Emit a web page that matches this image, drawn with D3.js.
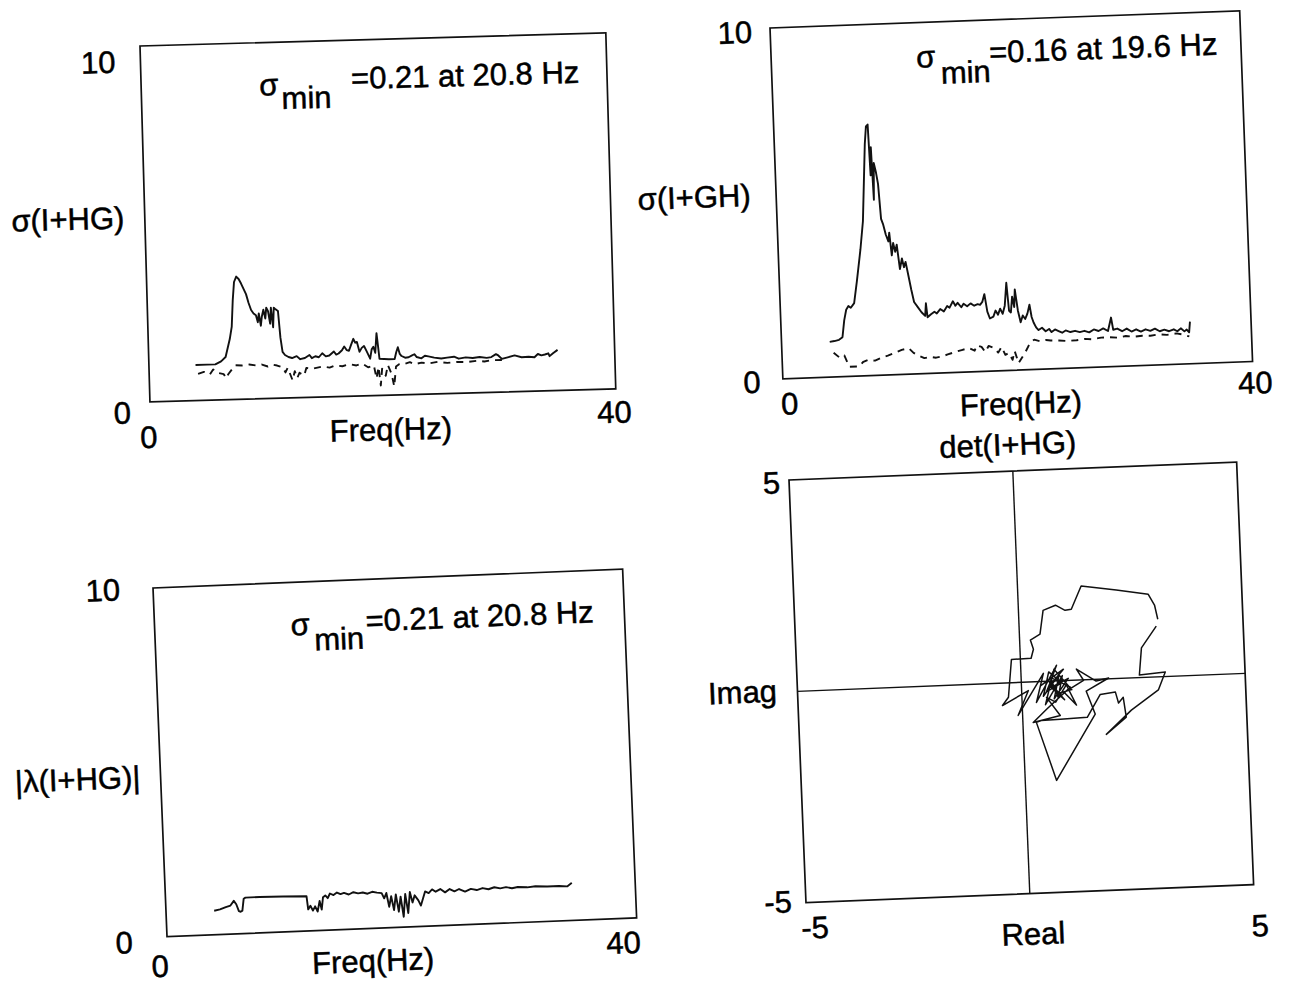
<!DOCTYPE html>
<html>
<head>
<meta charset="utf-8">
<script src="https://cdn.jsdelivr.net/npm/d3@7"></script>
<style>
  body { margin: 0; background: #fff; }
  text { font-family: "Liberation Sans", Arial, Helvetica, sans-serif; font-size: 31px; fill: #000; stroke: #000; stroke-width: 0.5px; }
</style>
</head>
<body>
<div id="chart"></div>
<script>
// ---- data ----
var freqTicks = [0, 40];
var sigmaTicks = [0, 10];
var nyquistTicks = [-5, 5];

// sigma(I+HG): max (solid) and min (dashed), [freq Hz, value]
var hgSigmaMax = [[4.0,1.0],[5.0,1.0],[5.7,1.0],[6.2,1.08],[6.6,1.2],[7.0,1.7],[7.2,2.05],[7.35,2.8],[7.5,3.3],[7.7,3.45],[7.9,3.38],[8.1,3.25],[8.3,3.1],[8.5,2.95],[8.7,2.7],[8.9,2.5],[9.1,2.4],[9.3,2.35],[9.45,2.15],[9.55,2.4],[9.7,2.05],[9.8,2.3],[9.95,2.5],[10.1,2.25],[10.2,2.55],[10.35,2.45],[10.5,2.1],[10.6,2.55],[10.75,2.0],[10.85,2.55],[11.0,2.5],[11.2,2.45],[11.35,1.7],[11.5,1.3],[11.7,1.21],[12.0,1.15],[12.3,1.12],[12.7,1.17],[13.0,1.08],[13.4,1.11],[13.8,1.19],[14.0,1.1],[14.3,1.15],[14.6,1.12],[14.9,1.23],[15.2,1.14],[15.5,1.16],[15.9,1.27],[16.1,1.18],[16.3,1.21],[16.6,1.3],[16.8,1.4],[17.0,1.3],[17.2,1.28],[17.4,1.45],[17.6,1.61],[17.75,1.5],[17.9,1.52],[18.1,1.24],[18.3,1.35],[18.5,1.4],[18.7,1.26],[19.0,1.04],[19.15,1.3],[19.3,1.37],[19.45,1.2],[19.6,1.75],[19.7,1.4],[19.8,1.03],[20.2,1.02],[20.6,1.01],[21.1,1.01],[21.25,1.2],[21.4,1.34],[21.55,1.15],[21.7,1.09],[22.0,1.04],[22.3,1.05],[22.6,1.1],[22.8,1.13],[23.0,1.05],[23.4,1.01],[23.7,1.08],[24.0,1.06],[24.5,1.02],[25.1,0.99],[25.6,1.01],[26.2,1.03],[26.6,0.97],[27.2,1.0],[27.8,0.98],[28.4,1.0],[29.0,0.97],[29.4,0.99],[29.8,1.07],[30.0,1.03],[30.3,0.93],[30.8,0.97],[31.4,1.02],[32.0,0.96],[32.6,0.97],[33.1,0.95],[33.4,1.04],[33.7,1.0],[34.0,1.02],[34.3,1.05],[34.4,0.97],[34.7,1.05],[35.1,1.14]];
var hgSigmaMin = [[4.2,0.75],[4.7,0.8],[5.2,0.72],[5.5,0.86],[5.7,0.78],[6.4,0.72],[6.6,0.6],[6.8,0.72],[7.4,0.96],[8.0,0.95],[8.6,0.97],[9.2,0.94],[9.7,0.96],[10.2,0.9],[10.6,0.95],[11.0,0.92],[11.5,0.86],[11.7,0.72],[11.9,0.85],[12.3,0.49],[12.5,0.75],[12.7,0.55],[12.9,0.7],[13.3,0.62],[13.5,0.83],[14.0,0.8],[14.9,0.86],[15.5,0.82],[16.0,0.88],[16.6,0.85],[17.2,0.9],[17.8,0.86],[18.3,0.91],[18.8,0.8],[19.3,0.85],[19.5,0.48],[19.7,0.8],[19.85,0.28],[20.0,0.75],[20.3,0.55],[20.5,0.85],[20.8,0.6],[21.0,0.24],[21.2,0.8],[21.5,0.87],[22.0,0.87],[22.4,0.91],[22.8,0.85],[23.4,0.89],[24.0,0.86],[24.8,0.9],[25.6,0.86],[26.4,0.88],[27.3,0.87],[28.2,0.9],[28.8,0.87],[29.3,0.9],[30.3,0.9]];

// sigma(I+GH): max (solid) and min (dashed)
var ghSigmaMax = [[4.1,1.0],[4.5,1.02],[4.9,1.05],[5.2,1.12],[5.4,1.6],[5.6,1.9],[5.8,2.0],[6.0,1.95],[6.3,2.08],[6.6,2.7],[7.0,3.6],[7.3,4.4],[7.5,5.5],[7.7,6.6],[7.85,7.1],[8.0,7.15],[8.1,5.7],[8.2,6.5],[8.3,5.0],[8.4,6.05],[8.55,5.8],[8.7,5.45],[8.85,4.45],[9.0,4.3],[9.2,4.0],[9.4,3.8],[9.5,4.05],[9.65,3.4],[9.8,3.75],[9.95,3.5],[10.1,3.7],[10.3,3.0],[10.5,3.3],[10.65,3.05],[10.8,3.2],[11.0,2.8],[11.2,2.4],[11.4,2.05],[11.7,1.9],[12.0,1.75],[12.3,1.64],[12.4,2.0],[12.5,1.6],[12.8,1.68],[13.1,1.75],[13.3,1.7],[13.6,1.82],[13.9,1.75],[14.2,1.9],[14.4,1.85],[14.7,2.03],[14.9,1.9],[15.1,1.98],[15.4,1.85],[15.6,1.95],[15.9,1.87],[16.2,1.95],[16.5,1.88],[16.8,1.92],[17.0,1.9],[17.2,1.98],[17.4,2.2],[17.6,1.7],[17.8,1.5],[18.1,1.55],[18.3,1.72],[18.5,1.6],[18.7,1.77],[18.9,1.62],[19.1,1.85],[19.3,2.5],[19.45,1.7],[19.6,1.65],[19.75,2.1],[19.9,1.8],[20.0,2.3],[20.2,1.7],[20.4,1.36],[20.6,1.55],[20.8,1.45],[21.0,1.6],[21.2,1.85],[21.35,1.5],[21.5,1.34],[21.7,1.2],[21.9,1.12],[22.2,1.18],[22.5,1.08],[22.8,1.14],[23.0,1.05],[23.3,1.12],[23.6,1.07],[23.9,1.02],[24.2,1.08],[24.6,1.03],[25.0,1.06],[25.4,1.02],[25.8,1.05],[26.2,1.0],[26.6,1.08],[27.0,1.03],[27.4,1.1],[27.8,1.02],[28.1,1.4],[28.25,1.05],[28.6,1.08],[29.0,1.0],[29.4,1.07],[29.8,0.98],[30.2,1.04],[30.6,0.97],[31.0,1.03],[31.4,0.98],[31.8,1.04],[32.2,0.96],[32.6,1.0],[33.0,0.95],[33.4,1.0],[33.7,0.94],[34.0,1.02],[34.3,0.93],[34.5,0.98],[34.7,0.9],[34.8,1.2]];
var ghSigmaMin = [[4.4,0.69],[4.9,0.54],[5.3,0.6],[5.7,0.27],[6.5,0.27],[6.9,0.4],[7.3,0.45],[7.9,0.42],[8.5,0.5],[9.0,0.55],[9.6,0.62],[10.2,0.7],[10.8,0.74],[11.2,0.6],[11.6,0.52],[12.1,0.44],[12.6,0.47],[13.1,0.44],[13.6,0.47],[14.1,0.52],[14.7,0.58],[15.3,0.63],[15.9,0.68],[16.4,0.6],[16.6,0.75],[17.0,0.7],[17.3,0.55],[17.6,0.72],[18.1,0.65],[18.4,0.52],[18.7,0.68],[19.0,0.45],[19.3,0.5],[19.6,0.3],[19.8,0.55],[20.1,0.2],[20.4,0.35],[20.7,0.5],[21.0,0.68],[21.2,0.78],[21.5,0.85],[22.0,0.8],[22.5,0.83],[22.9,0.81],[23.6,0.8],[24.3,0.78],[25.1,0.79],[25.8,0.82],[26.5,0.8],[27.2,0.84],[27.9,0.84],[28.6,0.82],[29.3,0.86],[30.0,0.83],[30.7,0.85],[31.4,0.84],[32.1,0.87],[32.8,0.85],[33.6,0.88],[34.2,0.84],[34.7,0.78]];

// |lambda(I+HG)|
var hgLambda = [[4.1,0.69],[4.6,0.72],[5.1,0.78],[5.5,0.82],[5.8,0.95],[6.0,0.85],[6.2,0.65],[6.35,0.63],[6.5,0.66],[6.65,1.0],[6.8,1.03],[8.0,1.03],[10.0,1.02],[12.0,1.0],[12.1,0.62],[12.3,0.72],[12.5,0.58],[12.7,0.7],[12.9,0.55],[13.1,0.85],[13.25,0.6],[13.4,0.95],[13.6,1.0],[13.8,0.92],[14.0,1.05],[14.3,1.0],[14.6,1.07],[14.9,1.02],[15.2,1.05],[15.6,1.0],[16.0,1.06],[16.4,1.02],[16.8,1.04],[17.2,1.0],[17.6,1.05],[18.0,1.02],[18.4,1.0],[18.6,0.85],[18.8,1.0],[19.0,0.6],[19.2,0.9],[19.4,0.5],[19.6,0.95],[19.8,0.45],[20.0,0.88],[20.2,0.3],[20.4,0.95],[20.6,0.4],[20.8,1.0],[21.0,0.7],[21.2,0.9],[21.5,0.75],[21.7,0.6],[21.9,0.8],[22.1,1.0],[22.4,0.95],[22.7,1.05],[23.0,0.98],[23.4,1.05],[23.8,0.95],[24.2,1.04],[24.6,0.97],[25.0,1.03],[25.5,0.95],[26.0,1.02],[26.5,0.98],[27.0,1.03],[27.5,0.99],[28.0,1.04],[28.5,1.0],[29.0,1.03],[29.5,0.99],[30.0,1.02],[30.8,1.0],[31.5,1.02],[32.5,1.0],[33.5,1.0],[34.2,0.98],[34.5,1.05],[34.6,1.08]];

// det(I+HG) locus, [real, imag]
var hgDet = [[3.10,1.36],[3.04,1.70],[2.91,1.96],[2.20,2.09],[1.42,2.22],[1.18,1.68],[1.04,1.66],[0.83,1.79],[0.55,1.68],[0.46,1.12],[0.24,0.99],[0.30,0.77],[0.24,0.56],[-0.20,0.55],[-0.30,-0.34],[-0.44,-0.53],[0.15,-0.20],[-0.10,-0.78],[0.50,0.19],[0.32,-0.49],[0.80,0.37],[0.60,-0.14],[0.95,0.27],[0.44,-0.09],[0.70,0.10],[0.55,-0.25],[0.90,-0.05],[0.62,0.22],[0.48,-0.35],[0.85,0.15],[0.72,-0.42],[1.05,0.05],[0.66,-0.15],[0.95,-0.45],[0.58,0.05],[0.80,-0.30],[1.12,-0.22],[0.74,0.28],[0.52,-0.55],[0.92,0.12],[0.81,-0.39],[0.65,0.09],[1.09,-0.16],[0.54,-0.66],[0.23,-0.96],[0.84,-0.82],[0.55,-0.38],[0.75,-0.50],[1.00,-0.10],[1.21,-0.59],[0.95,-0.28],[1.39,-0.01],[1.24,0.26],[1.67,-0.04],[1.95,0.02],[1.44,-0.27],[1.62,-0.82],[0.70,-2.35],[0.30,-0.96],[0.41,-0.92],[0.84,-0.91],[1.44,-0.89],[1.75,-0.36],[2.09,-0.32],[2.15,-0.58],[2.26,-0.45],[2.31,-0.92],[1.85,-1.31],[2.43,-0.76],[3.05,-0.31],[3.22,0.11],[2.64,0.06],[2.71,0.70],[3.06,1.20]];

// ---- drawing ----
var svg = d3.select("#chart")
  .append("svg")
    .attr("width", 1290)
    .attr("height", 984);

svg.append("rect")
  .attr("width", 1290)
  .attr("height", 984)
  .attr("fill", "#fff");

// each panel is a slightly tilted group, like the scanned page
function addPanel(x0, y0, angle, w, h) {
  var g = svg.append("g")
    .attr("transform", "translate(" + x0 + "," + y0 + ") rotate(" + angle + ")");
  g.append("rect")
    .attr("width", w)
    .attr("height", h)
    .attr("fill", "none")
    .attr("stroke", "#111")
    .attr("stroke-width", 1.7);
  return g;
}

function label(g, x, y, str, anchor) {
  return g.append("text")
    .attr("x", x)
    .attr("y", y)
    .attr("text-anchor", anchor || "middle")
    .text(str);
}

function sigmaNote(g, sx, sy, mx, my, ex, ey, rest) {
  label(g, sx, sy, "\u03C3", "start");
  label(g, mx, my, "min", "start");
  label(g, ex, ey, rest, "start");
}

function drawLine(g, data, x, y, dashed, sw) {
  var line = d3.line()
    .x(d => x(d[0]))
    .y(d => y(d[1]));
  g.append("path")
    .datum(data)
    .attr("d", line)
    .attr("fill", "none")
    .attr("stroke", "#111")
    .attr("stroke-width", sw || 1.9)
    .attr("stroke-linejoin", "round")
    .attr("stroke-dasharray", dashed ? "7,6" : null);
}

// Panel 1: sigma(I+HG)
var w1 = 466, h1 = 356;
var p1 = addPanel(140, 46, -1.6, w1, h1);
var x1 = d3.scaleLinear().domain([0, 40]).range([0, w1]);
var y1 = d3.scaleLinear().domain([0, 10]).range([h1, 0]);
drawLine(p1, hgSigmaMin, x1, y1, true);
drawLine(p1, hgSigmaMax, x1, y1, false);
label(p1, x1(0) - 25, y1(sigmaTicks[1]) + 26, String(sigmaTicks[1]), "end");
label(p1, x1(0) - 28, y1(sigmaTicks[0]) + 21, String(sigmaTicks[0]));
label(p1, x1(freqTicks[0]) - 2, y1(0) + 46, String(freqTicks[0]));
label(p1, x1(freqTicks[1]) - 2, y1(0) + 34, String(freqTicks[1]));
label(p1, 240, y1(0) + 45, "Freq(Hz)");
label(p1, -77, 182, "\u03C3(I+HG)");
sigmaNote(p1, 118, 53, 140, 67, 210, 49, "=0.21 at 20.8 Hz");

// Panel 2: sigma(I+GH)
var w2 = 470, h2 = 351;
var p2 = addPanel(770, 28, -2.1, w2, h2);
var x2 = d3.scaleLinear().domain([0, 40]).range([0, w2]);
var y2 = d3.scaleLinear().domain([0, 10]).range([h2, 0]);
drawLine(p2, ghSigmaMin, x2, y2, true);
drawLine(p2, ghSigmaMax, x2, y2, false);
label(p2, x2(0) - 18, y2(sigmaTicks[1]) + 14, String(sigmaTicks[1]), "end");
label(p2, x2(0) - 31, y2(sigmaTicks[0]) + 13, String(sigmaTicks[0]));
label(p2, x2(freqTicks[0]) + 6, y2(0) + 36, String(freqTicks[0]));
label(p2, x2(freqTicks[1]) + 2, y2(0) + 32, String(freqTicks[1]));
label(p2, 237, y2(0) + 44, "Freq(Hz)");
label(p2, -82, 177, "\u03C3(I+GH)");
sigmaNote(p2, 145, 45, 169, 62, 218, 43, "=0.16 at 19.6 Hz");

// Panel 3: |lambda(I+HG)|
var w3 = 470, h3 = 349;
var p3 = addPanel(153, 588, -2.3, w3, h3);
var x3 = d3.scaleLinear().domain([0, 40]).range([0, w3]);
var y3 = d3.scaleLinear().domain([0, 10]).range([h3, 0]);
drawLine(p3, hgLambda, x3, y3, false);
label(p3, x3(0) - 33, y3(sigmaTicks[1]) + 11, String(sigmaTicks[1]), "end");
label(p3, x3(0) - 43, y3(sigmaTicks[0]) + 15, String(sigmaTicks[0]));
label(p3, x3(freqTicks[0]) - 8, y3(0) + 40, String(freqTicks[0]));
label(p3, x3(freqTicks[1]) - 14, y3(0) + 35, String(freqTicks[1]));
label(p3, 205, y3(0) + 43, "Freq(Hz)");
label(p3, -83, 199, "|\u03BB(I+HG)|");
sigmaNote(p3, 136, 53, 159, 69, 211, 52, "=0.21 at 20.8 Hz");

// Panel 4: det(I+HG) in the complex plane
var w4 = 448, h4 = 423;
var p4 = addPanel(789, 480, -2.3, w4, h4);
var x4 = d3.scaleLinear().domain(nyquistTicks).range([0, w4]);
var y4 = d3.scaleLinear().domain(nyquistTicks).range([h4, 0]);
p4.append("line")
  .attr("x1", x4(0)).attr("x2", x4(0))
  .attr("y1", 0).attr("y2", h4)
  .attr("stroke", "#111").attr("stroke-width", 1.4);
p4.append("line")
  .attr("x1", 0).attr("x2", w4)
  .attr("y1", y4(0)).attr("y2", y4(0))
  .attr("stroke", "#111").attr("stroke-width", 1.4);
drawLine(p4, hgDet, x4, y4, false, 1.5);
label(p4, x4(-5) - 9, y4(nyquistTicks[1]) + 13, String(nyquistTicks[1]), "end");
label(p4, x4(-5) - 14, y4(nyquistTicks[0]) + 9, String(nyquistTicks[0]), "end");
label(p4, x4(nyquistTicks[0]) + 8, y4(-5) + 36, String(nyquistTicks[0]));
label(p4, x4(nyquistTicks[1]) + 5, y4(-5) + 52, String(nyquistTicks[1]));
label(p4, 226, y4(-5) + 51, "Real");
label(p4, -55, 221, "Imag");
label(p4, 220, -16, "det(I+HG)");
</script>
</body>
</html>
